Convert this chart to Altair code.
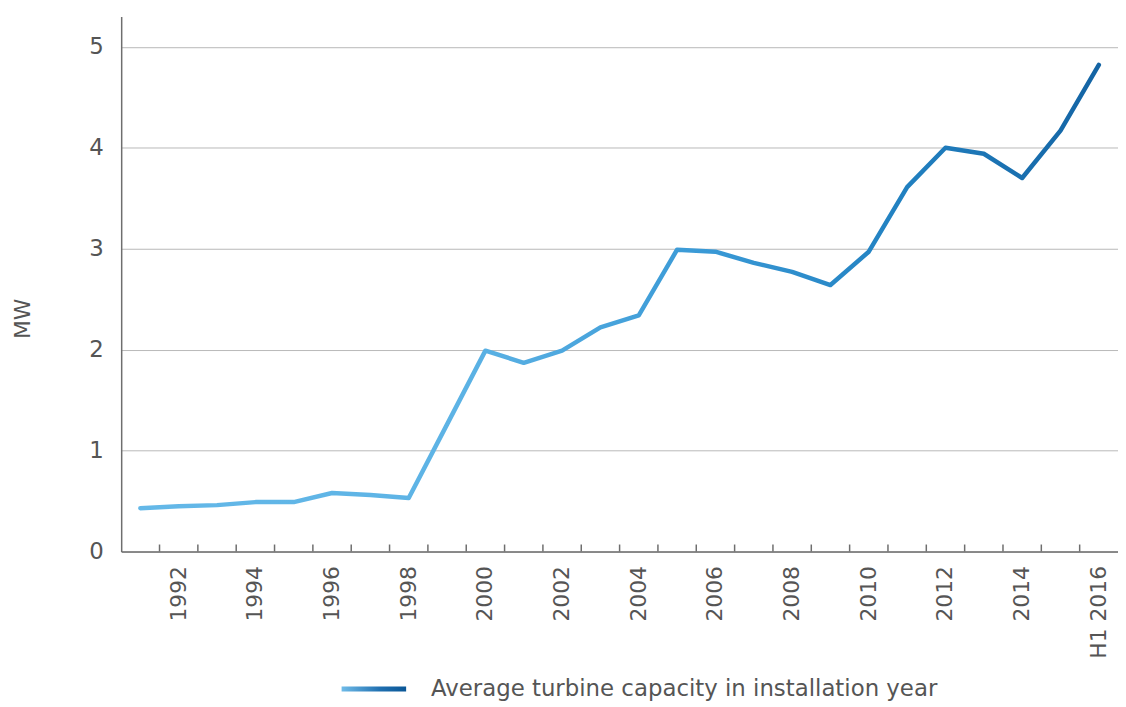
import altair as alt
import pandas as pd

years = ['1991', '1992', '1993', '1994', '1995', '1996', '1997', '1998', '1999', '2000',
         '2001', '2002', '2003', '2004', '2005', '2006', '2007', '2008', '2009', '2010',
         '2011', '2012', '2013', '2014', '2015', 'H1 2016']
capacity = [0.43, 0.45, 0.46, 0.49, 0.49, 0.58, 0.56, 0.53, 1.26, 1.99,
            1.87, 1.99, 2.22, 2.34, 2.99, 2.97, 2.86, 2.77, 2.64, 2.97,
            3.61, 4.00, 3.94, 3.70, 4.17, 4.82]
y_ticks = [0, 1, 2, 3, 4, 5]
series_name = 'Average turbine capacity in installation year'

df = pd.DataFrame({'year': years, 'mw': capacity, 'series': series_name})
tick_df = pd.DataFrame({'year': years[1:]})

FONT = 'DejaVu Sans'
GREY = '#555555'
AXIS = '#6e6e6e'

x_scale = alt.Scale(type='band', domain=years, paddingInner=0, paddingOuter=0)
y_scale = alt.Scale(domain=[0, 5.3], nice=False, zero=True)

x_axis = alt.Axis(
    title=None, labelAngle=270, labelAlign='right', labelBaseline='middle',
    labelFont=FONT, labelFontSize=22, labelColor=GREY, labelPadding=14,
    labelOverlap=False, ticks=False, grid=False,
    domainColor=AXIS, domainWidth=1.5,
    labelExpr="datum.value == 'H1 2016' || toNumber(datum.value) % 2 == 0 ? datum.value : ''",
)
y_axis = alt.Axis(
    title='MW', values=y_ticks, format='d', grid=True, gridColor='#b8b8b8', gridWidth=1,
    domainColor=AXIS, domainWidth=1.5, ticks=False,
    labelFont=FONT, labelFontSize=23, labelColor=GREY, labelPadding=18,
    titleFont=FONT, titleFontSize=22, titleFontWeight='normal', titleColor=GREY,
    titleAngle=270, titleX=-99, titleY=304, titleAlign='center', titleBaseline='middle',
)

line_gradient = alt.LinearGradient(
    gradient='linear', x1=0, x2=1, y1=0, y2=0,
    stops=[
        alt.GradientStop(offset=0, color='#64b8e8'),
        alt.GradientStop(offset=0.33, color='#5db3e5'),
        alt.GradientStop(offset=0.6, color='#3898d5'),
        alt.GradientStop(offset=0.8, color='#2180c0'),
        alt.GradientStop(offset=1, color='#1464a4'),
    ],
)
legend_gradient = alt.LinearGradient(
    gradient='linear', x1=0, x2=1, y1=0, y2=0,
    stops=[
        alt.GradientStop(offset=0, color='#6fbbe8'),
        alt.GradientStop(offset=0.6, color='#1f6fb0'),
        alt.GradientStop(offset=1, color='#0a5696'),
    ],
)
legend_bar = 'M-1,-0.077H1V0.077H-1Z'

ticks = alt.Chart(tick_df).mark_rule(color=AXIS, strokeWidth=1.5).encode(
    x=alt.X('year:N', scale=x_scale, axis=x_axis, bandPosition=0),
    y=alt.datum(0),
    y2=alt.datum(0.07),
)

legend_layer = alt.Chart(df).transform_filter('false').mark_point(
    filled=True, fill=legend_gradient, strokeWidth=0, opacity=1
).encode(
    x=alt.X('year:N', scale=x_scale, axis=x_axis, bandPosition=0.5),
    y=alt.Y('mw:Q', scale=y_scale, axis=y_axis),
    shape=alt.Shape(
        'series:N',
        scale=alt.Scale(domain=[series_name], range=[legend_bar]),
        legend=alt.Legend(
            title=None, orient='none', legendX=222, legendY=645,
            symbolSize=4225, symbolStrokeWidth=0,
            labelFont=FONT, labelFontSize=23, labelColor=GREY,
            labelOffset=25, labelLimit=900, padding=0,
        ),
    ),
)

main_line = alt.Chart(df).mark_line(
    stroke=line_gradient, strokeWidth=4.5, strokeCap='round', strokeJoin='round'
).encode(
    x=alt.X('year:N', scale=x_scale, axis=x_axis, bandPosition=0.5),
    y=alt.Y('mw:Q', scale=y_scale, axis=y_axis),
)

chart = alt.layer(ticks, legend_layer, main_line).properties(
    width=1004, height=539,
    autosize=alt.AutoSizeParams(type='none'),
    padding={'left': 114, 'top': 6, 'right': 0, 'bottom': 149},
    background='white',
).configure_view(stroke=None)

chart.save('out.html', embed_options={'renderer': 'svg', 'actions': False})
